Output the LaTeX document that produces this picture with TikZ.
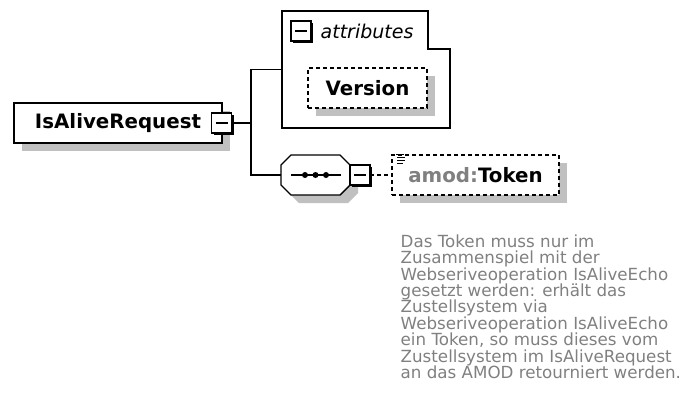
\documentclass[tikz,border=0pt]{standalone}
\usepackage{fontspec}
\setmainfont{DejaVu Sans}[ItalicFont={DejaVu Sans Oblique}, BoldFont={DejaVu Sans Bold}, BoldItalicFont={DejaVu Sans Bold Oblique}]
\usetikzlibrary{shadows}
\definecolor{sombra}{RGB}{192,192,192}
\definecolor{gristexto}{RGB}{128,128,128}
\tikzstyle{caja} = [rectangle, draw=black, fill=white, minimum height=40pt, inner sep=0pt, outer sep=0pt, font=\fontsize{19.8}{24}\selectfont\bfseries, drop shadow={shadow xshift=8pt, shadow yshift=-8pt, fill=sombra, opacity=1}]
\tikzstyle{cajaopc} = [caja, dash pattern=on 4pt off 3pt]
\tikzstyle{menos} = [rectangle, draw=black, fill=white, minimum size=20pt, inner sep=0pt, outer sep=0pt, drop shadow={shadow xshift=2pt, shadow yshift=-2pt, fill=black, opacity=1}, path picture={\draw ([xshift=4pt]path picture bounding box.west) -- ([xshift=-4pt]path picture bounding box.east);}]
\tikzstyle{grupo} = [rectangle, inner sep=0pt, outer sep=0pt]
\tikzstyle{doctexto} = [anchor=north west, align=left, inner sep=0pt, text=gristexto, font=\fontsize{16.7}{16.4}\selectfont]

\begin{document}
\begin{tikzpicture}[x=1pt, y=-1pt, line width=1.4pt]
        \useasboundingbox (0,0) rectangle (685,405);

        % elemento raiz
        \node (req) [caja, minimum width=208pt] at (118,123) {IsAliveRequest\hspace{6pt}};
        \node (menosreq) [menos] at (221.5,123) {};
        \coordinate (bif) at (251,123);

        % atributos
        \node (atrib) [grupo, minimum width=168pt, minimum height=117pt] at (366,69.5) {};
        \draw (atrib.south west) -- (atrib.north west) -- (428,11) -- (428,49) -- (450,49) -- (atrib.south east) -- cycle;
        \node (menosatrib) [menos] at (301,31) {};
        \node (atribtexto) [anchor=west, inner sep=0pt, font=\fontsize{19}{22}\selectfont\itshape] at (320,31) {attributes};
        \node (version) [cajaopc, minimum width=119pt] at (367.5,88) {Version};

        % secuencia
        \begin{scope}[shift={(8,8)}]
            \fill[sombra] (281,165) -- ++(10,-10) -- ++(49,0) -- ++(10,10) -- ++(0,20) -- ++(-10,10) -- ++(-49,0) -- ++(-10,-10) -- cycle;
        \end{scope}
        \draw[fill=white] (281,165) -- ++(10,-10) -- ++(49,0) -- ++(10,10) -- ++(0,20) -- ++(-10,10) -- ++(-49,0) -- ++(-10,-10) -- cycle;
        \node (sec) [grupo, minimum width=69pt, minimum height=40pt] at (315.5,175) {};
        \draw ([xshift=10pt]sec.west) -- ([xshift=-9pt]sec.east);
        \fill (305,175) circle (3) (315.5,175) circle (3) (326,175) circle (3);
        \node (menossec) [menos] at (360,175) {};

        % token
        \node (token) [cajaopc, minimum width=167pt] at (475.5,175) {{\color{gristexto}amod:}Token};
        \draw [line width=1pt] (396,154) -- (404,154) (397,157) -- (405,157) (397,160) -- (405,160) (397,163) -- (403,163);
        \node (doc) [doctexto] at (400,234) {Das Token muss nur im\\Zusammenspiel mit der\\Webseriveoperation IsAliveEcho\\gesetzt werden: erhält das\\Zustellsystem via\\Webseriveoperation IsAliveEcho\\ein Token, so muss dieses vom\\Zustellsystem im IsAliveRequest\\an das AMOD retourniert werden.};

        \draw (menosreq) -- (bif) |- (atrib.west);
        \draw (bif) |- (sec.west);
        \draw [dash pattern=on 4pt off 3pt] (menossec) -- (token);
    \end{tikzpicture}
\end{document}
